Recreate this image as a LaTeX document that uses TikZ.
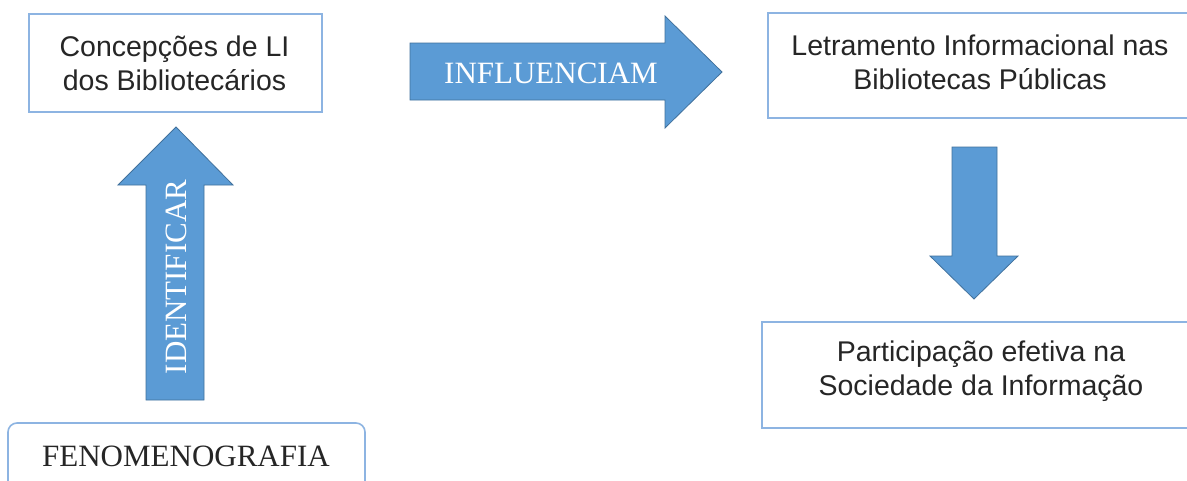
\documentclass[tikz,border=0pt]{standalone}
\usepackage{fontspec}
\setmainfont{Liberation Serif}
\newfontfamily\arialf{Liberation Sans}
\usetikzlibrary{positioning}
\definecolor{setaazul}{RGB}{91,155,213}
\definecolor{setaborda}{RGB}{65,113,156}
\definecolor{caixaborda}{RGB}{141,180,226}
\begin{document}
\begin{tikzpicture}[x=1pt,y=-1pt]
	\useasboundingbox (0,0)rectangle(1187,480);
	\clip (0,0)rectangle(1187,480);
	\fill[white](0,0)rectangle(1187,480);
	\tikzset{caixa/.style={draw=caixaborda,line width=1.6pt,fill=white,inner sep=0pt}}
	\tikzset{txt/.style={align=center,font=\arialf\fontsize{28.5}{34}\selectfont,text=black!85}}
	\tikzset{seta/.style={fill=setaazul,draw=setaborda,line width=0.8pt,line join=miter}}
	\tikzset{rotulo/.style={text=white,font=\fontsize{31}{31}\selectfont,inner sep=0pt}}
	% caixas
	\node[caixa,minimum width=293,minimum height=98](conc) at (175.5,63){};
	\node[caixa,minimum width=460,minimum height=105](letr) at (998,65.5){};
	\node[caixa,minimum width=476,minimum height=106](part) at (1000,375){};
	\draw[caixa,rounded corners=9pt](8,423)coordinate(fA)rectangle(365,510)coordinate(fB);
	\node[txt](concT) at ([xshift=-1]conc.center){Concepções de LI\\dos Bibliotecários};
	\node[txt](letrT) at ([xshift=-18,yshift=3]letr.center){Letramento Informacional nas\\Bibliotecas Públicas};
	\node[txt](partT) at ([xshift=-19,yshift=4]part.center){Participação efetiva na\\Sociedade da Informação};
	\node[font=\fontsize{31}{31}\selectfont,text=black!85,inner sep=0pt](fenom) at (186,456){FENOMENOGRAFIA};
	% setas
	\draw[seta](146,400)--(146,185)--(118,185)--(176,127)coordinate(cimaP)--(233,185)--(204,185)--(204,400)--cycle;
	\draw[seta](410,43)--(665,43)--(665,16)--(722,72)coordinate(dirP)--(665,128)--(665,100)--(410,100)--cycle;
	\draw[seta](952,147)--(997,147)--(997,256)--(1018,256)--(974,299)coordinate(baixoP)--(930,256)--(952,256)--cycle;
	\node[rotulo,rotate=90](ident) at (176,277){IDENTIFICAR};
	\node[rotulo](influ) at (551,73){INFLUENCIAM};
\end{tikzpicture}
\end{document}
